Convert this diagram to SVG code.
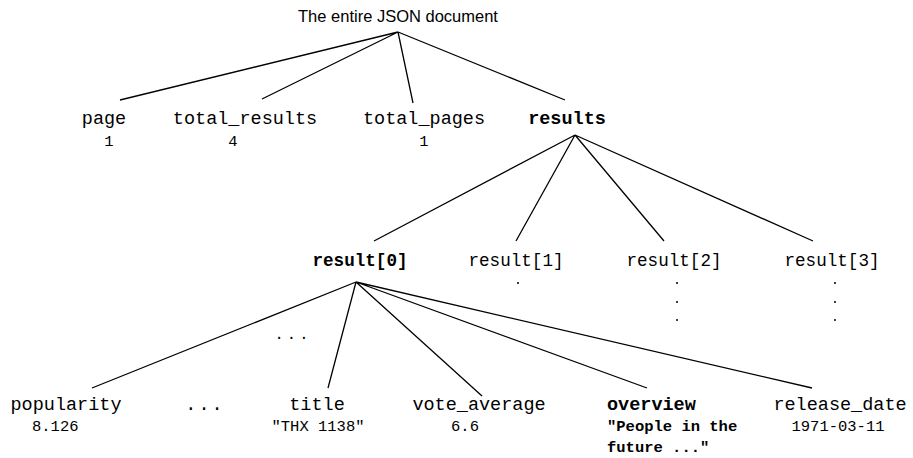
<svg xmlns="http://www.w3.org/2000/svg" width="913" height="458" viewBox="0 0 913 458">
<style>
.t{font-family:"Liberation Sans",Arial,sans-serif;font-size:16.5px;fill:#000}
.m{font-family:"Liberation Mono","Courier New",monospace;font-size:18.5px;fill:#000}
.r{font-family:"Liberation Mono","Courier New",monospace;font-size:17.6px;fill:#000}
.v{font-family:"Liberation Mono","Courier New",monospace;font-size:15.5px;fill:#000}
.b{font-weight:bold}
.c{text-anchor:middle}
.e{stroke:#000;stroke-width:1.3;fill:none}
.d{fill:#000}
</style>
<rect width="913" height="458" fill="#fff"/>
<g id="connectors">
<path class="e" d="M398 32L120 100M398 32L262 99M398 32L413 103M398 32L565 100"/>
<path class="e" d="M575 135L374 241M575 135L516 241M575 135L664 241M575 135L813 241"/>
<path class="e" d="M356 282L92 388M356 282L328 388M356 282L482 396M356 282L647 388M356 282L812 388"/>
</g>
<g id="root"><text class="t c" x="398" y="22">The entire JSON document</text></g>
<g id="page"><text class="m c" x="104" y="124">page</text><text class="v c" x="109" y="146">1</text></g>
<g id="total_results"><text class="m c" x="245" y="124">total_results</text><text class="v c" x="233" y="146">4</text></g>
<g id="total_pages"><text class="m c" x="424" y="124">total_pages</text><text class="v c" x="424" y="146">1</text></g>
<g id="results"><text class="m b c" x="567" y="124">results</text></g>
<g id="result0"><text class="r b c" x="360" y="266">result[0]</text></g>
<g id="result1"><text class="r c" x="516" y="266">result[1]</text><circle class="d" cx="518" cy="283" r="1"/></g>
<g id="result2"><text class="r c" x="674" y="266">result[2]</text><circle class="d" cx="677" cy="283" r="1"/><circle class="d" cx="677" cy="302" r="1"/><circle class="d" cx="677" cy="320" r="1"/></g>
<g id="result3"><text class="r c" x="832" y="266">result[3]</text><circle class="d" cx="835" cy="283" r="1"/><circle class="d" cx="835" cy="302" r="1"/><circle class="d" cx="835" cy="320" r="1"/></g>
<g id="ellipsis-mid"><text class="v c" x="293" y="339" letter-spacing="3">...</text></g>
<g id="popularity"><text class="m c" x="66" y="410">popularity</text><text class="v" x="32" y="431">8.126</text></g>
<g id="ellipsis"><text class="m c" x="205" y="410" letter-spacing="2">...</text></g>
<g id="title"><text class="m c" x="317" y="410">title</text><text class="v c" x="318" y="431">"THX 1138"</text></g>
<g id="vote_average"><text class="m c" x="479" y="410">vote_average</text><text class="v c" x="465" y="431">6.6</text></g>
<g id="overview"><text class="m b" x="607" y="410">overview</text><text class="v b" x="607" y="431">"People in the</text><text class="v b" x="607" y="452">future ..."</text></g>
<g id="release_date"><text class="m c" x="840" y="410">release_date</text><text class="v c" x="838" y="431">1971-03-11</text></g>
</svg>
